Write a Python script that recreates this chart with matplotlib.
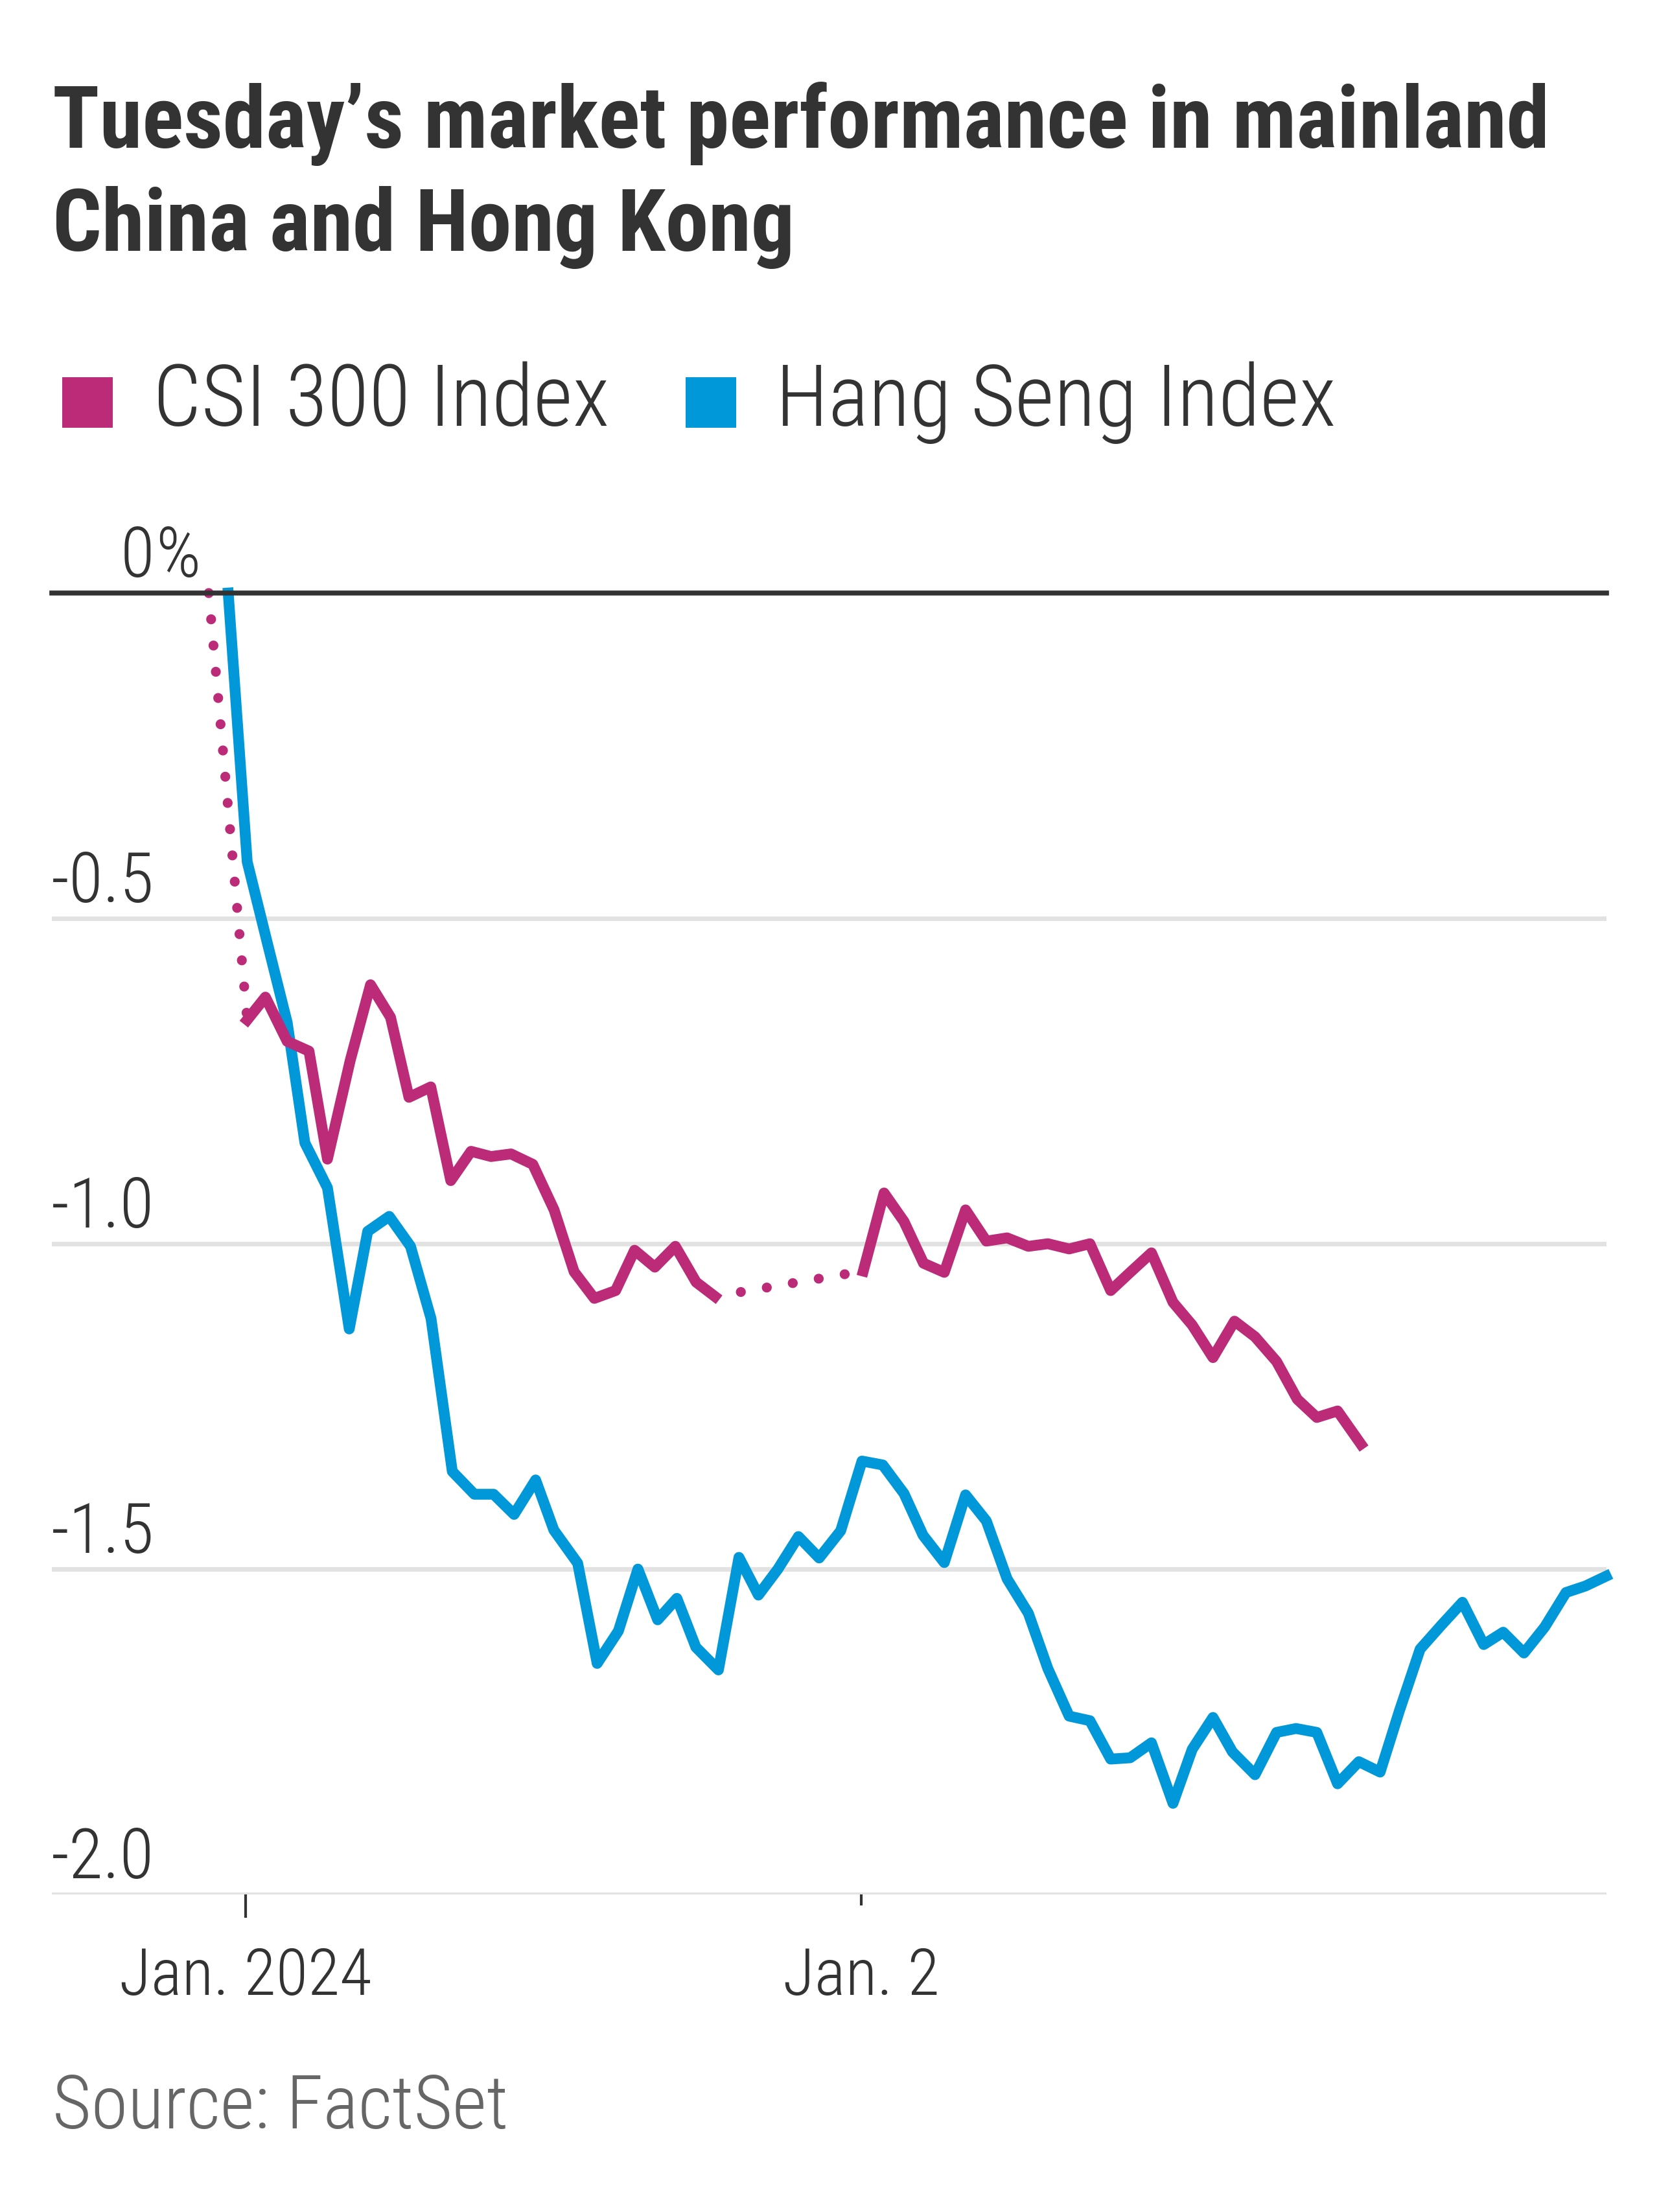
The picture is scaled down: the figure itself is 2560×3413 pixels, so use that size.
import matplotlib
matplotlib.use("Agg")
import matplotlib.pyplot as plt
import matplotlib.transforms as mtransforms
from matplotlib import font_manager
from matplotlib.patches import Rectangle

# x values are hours from Jan. 1 00:00 (chart's own time axis), y values are % change
csi_prev_close = (-1.44, 0.0)
csi_x_am = [0.06, 0.77, 1.62, 2.47, 3.19, 4.08, 4.87, 5.65, 6.37, 7.22, 8.00, 8.79,
            9.57, 10.35, 11.20, 12.03, 12.81, 13.60, 14.43, 15.17, 15.96, 16.76, 17.57, 18.30]
csi_y_am = [-0.656, -0.621, -0.689, -0.704, -0.870, -0.718, -0.602, -0.652, -0.775, -0.759,
            -0.903, -0.858, -0.866, -0.862, -0.878, -0.948, -1.043, -1.084, -1.072, -1.010,
            -1.036, -1.004, -1.059, -1.081]
csi_x_pm = [24.09, 24.90, 25.68, 26.44, 27.25, 28.08, 28.89, 29.70, 30.53, 31.29, 32.12,
            32.93, 33.74, 34.50, 35.33, 36.17, 36.92, 37.73, 38.57, 39.37, 40.21, 41.02,
            41.78, 42.59, 43.50]
csi_y_pm = [-1.042, -0.922, -0.966, -1.030, -1.044, -0.948, -0.996, -0.991, -1.004, -1.000,
            -1.008, -1.000, -1.072, -1.044, -1.014, -1.090, -1.125, -1.175, -1.119, -1.143,
            -1.181, -1.239, -1.267, -1.257, -1.308]

hsi_x = [-0.68, 0.06, 0.84, 1.62, 2.31, 3.19, 4.04, 4.76, 5.60, 6.43, 7.23, 8.06, 8.92,
         9.67, 10.47, 11.31, 12.02, 12.95, 13.71, 14.54, 15.30, 16.07, 16.82, 17.56, 18.44,
         19.24, 20.00, 20.76, 21.56, 22.37, 23.21, 24.04, 24.85, 25.68, 26.42, 27.25, 28.08,
         28.89, 29.70, 30.53, 31.29, 32.12, 32.93, 33.74, 34.50, 35.33, 36.17, 36.92, 37.73,
         38.49, 39.37, 40.21, 40.97, 41.78, 42.59, 43.42, 44.25, 45.00, 45.81, 46.62, 47.46,
         48.29, 49.05, 49.86, 50.67, 51.50, 52.26, 53.06]
hsi_y = [0.0, -0.413, -0.537, -0.660, -0.845, -0.914, -1.131, -0.981, -0.958, -1.004,
         -1.115, -1.350, -1.385, -1.385, -1.416, -1.363, -1.440, -1.491, -1.645, -1.595,
         -1.500, -1.578, -1.545, -1.620, -1.655, -1.482, -1.540, -1.500, -1.450, -1.483,
         -1.441, -1.334, -1.340, -1.384, -1.448, -1.490, -1.386, -1.426, -1.515, -1.568,
         -1.653, -1.726, -1.733, -1.792, -1.790, -1.767, -1.860, -1.777, -1.728, -1.781,
         -1.816, -1.751, -1.745, -1.751, -1.830, -1.796, -1.812, -1.718, -1.623, -1.587,
         -1.551, -1.616, -1.597, -1.629, -1.589, -1.536, -1.526, -1.511]

y_ticks = [0.0, -0.5, -1.0, -1.5, -2.0]
y_tick_labels = ["0", "-0.5", "-1.0", "-1.5", "-2.0"]
x_ticks = [0, 24]
x_tick_labels = ["Jan. 2024", "Jan. 2"]

series_names = ["CSI 300 Index", "Hang Seng Index"]
csi_color = "#BC2B78"
hsi_color = "#0098D9"
text_dark = "#333333"

installed = {f.name for f in font_manager.fontManager.ttflist}
font = "DejaVu Sans"
for cand in ["Roboto Condensed", "Liberation Sans Narrow", "Open Sans Condensed", "Liberation Sans"]:
    if cand in installed:
        font = cand
        break
plt.rcParams["font.family"] = [font, "DejaVu Sans"]

W, H = 2560, 3413
fig = plt.figure(figsize=(W / 100, H / 100), dpi=100)


def fx(px):
    return px / W


def fy(py):
    return 1 - py / H


# title
fig.text(fx(81), fy(228), "Tuesday\u2019s market performance in mainland", fontsize=96,
         fontweight="bold", color=text_dark, va="baseline", ha="left")
fig.text(fx(81), fy(387), "China and Hong Kong", fontsize=96,
         fontweight="bold", color=text_dark, va="baseline", ha="left")

# legend
for (sx, tx), name, col in zip([(96, 236), (1058, 1197)], series_names, [csi_color, hsi_color]):
    fig.add_artist(Rectangle((fx(sx), fy(660)), 78 / W, 78 / H, transform=fig.transFigure,
                             facecolor=col, edgecolor="none"))
    fig.text(fx(tx), fy(657), name, fontsize=95, fontweight="light", color=text_dark,
             va="baseline", ha="left")

ax = fig.add_axes([80 / W, 1 - 2923 / H, (2479 - 80) / W, (2923 - 915) / H])
ax.set_xlim(-7.56, 53.08)
ax.set_ylim(-2.0, 0.0)
for s in ax.spines.values():
    s.set_visible(False)

for v in y_ticks[1:]:
    ax.axhline(v, color="#e2e2e2", lw=5, zorder=0)
ax.axhline(0, color=text_dark, lw=5.5, zorder=4, clip_on=False)

# lines
ax.plot(hsi_x, hsi_y, color=hsi_color, lw=12, solid_joinstyle="round", zorder=2, clip_on=False)
ax.plot(csi_x_am, csi_y_am, color=csi_color, lw=12, solid_joinstyle="round", zorder=3)
ax.plot(csi_x_pm, csi_y_pm, color=csi_color, lw=12, solid_joinstyle="round", zorder=3)
ax.plot([csi_prev_close[0], csi_x_am[0]], [csi_prev_close[1], csi_y_am[0]], color=csi_color,
        lw=11, dashes=(0.01, 2.65), dash_capstyle="round", zorder=3, clip_on=False)
ax.plot([csi_x_am[-1], csi_x_pm[0]], [csi_y_am[-1], csi_y_pm[0]], color=csi_color,
        lw=11, dashes=(0.01, 2.65), dash_capstyle="round", zorder=3)

# y labels sit above their lines
ytrans = mtransforms.blended_transform_factory(fig.transFigure, ax.transData) + \
    mtransforms.ScaledTranslation(0, 25 / 100, fig.dpi_scale_trans)
for v, lab in zip(y_ticks, y_tick_labels):
    ax.text(fx(238), v, lab, fontsize=78, fontweight="light", color=text_dark, ha="right",
            va="baseline", transform=ytrans)
ax.text(fx(240), 0, "%", fontsize=78, fontweight="light", color=text_dark, ha="left",
        va="baseline", transform=ytrans)

# x ticks
ax.set_yticks([])
ax.set_xticks([x_ticks[0]])
ax.set_xticks([x_ticks[1]], minor=True)
ax.tick_params(axis="x", which="major", length=26, width=3, color=text_dark, labelbottom=False)
ax.tick_params(axis="x", which="minor", length=12, width=3, color=text_dark, labelbottom=False)
xtrans = mtransforms.blended_transform_factory(ax.transData, fig.transFigure)
for v, lab in zip(x_ticks, x_tick_labels):
    ax.text(v, fy(3078), lab, fontsize=73, fontweight="light", color=text_dark, ha="center",
            va="baseline", transform=xtrans)

fig.text(fx(81), fy(3284), "Source: FactSet", fontsize=83, fontweight="light", color="#666666",
         va="baseline", ha="left")

fig.savefig("out.png", dpi=100, facecolor="white")
